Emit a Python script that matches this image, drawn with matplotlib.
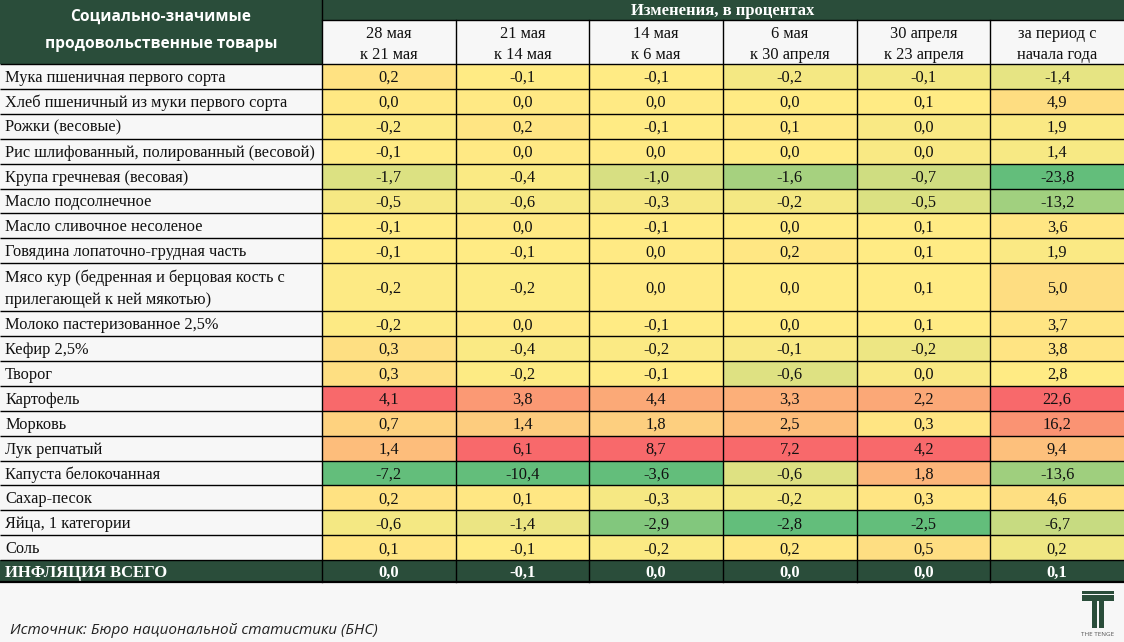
import matplotlib
matplotlib.use("Agg")
import matplotlib.pyplot as plt
from matplotlib.patches import Rectangle
import numpy as np

# ---------------- data ----------------
header_left = "Социально-значимые\nпродовольственные товары"
header_top = "Изменения, в процентах"
col_labels = ["28 мая\nк 21 мая", "21 мая\nк 14 мая", "14 мая\nк 6 мая",
              "6 мая\nк 30 апреля", "30 апреля\nк 23 апреля", "за период с\nначала года"]
items = [
    "Мука пшеничная первого сорта",
    "Хлеб пшеничный из муки первого сорта",
    "Рожки (весовые)",
    "Рис шлифованный, полированный (весовой)",
    "Крупа гречневая (весовая)",
    "Масло подсолнечное",
    "Масло сливочное несоленое",
    "Говядина лопаточно-грудная часть",
    "Мясо кур (бедренная и берцовая кость с\nприлегающей к ней мякотью)",
    "Молоко пастеризованное 2,5%",
    "Кефир 2,5%",
    "Творог",
    "Картофель",
    "Морковь",
    "Лук репчатый",
    "Капуста белокочанная",
    "Сахар-песок",
    "Яйца, 1 категории",
    "Соль",
]
col1 = [0.2, 0.0, -0.2, -0.1, -1.7, -0.5, -0.1, -0.1, -0.2, -0.2, 0.3, 0.3, 4.1, 0.7, 1.4, -7.2, 0.2, -0.6, 0.1]
col2 = [-0.1, 0.0, 0.2, 0.0, -0.4, -0.6, 0.0, -0.1, -0.2, 0.0, -0.4, -0.2, 3.8, 1.4, 6.1, -10.4, 0.1, -1.4, -0.1]
col3 = [-0.1, 0.0, -0.1, 0.0, -1.0, -0.3, -0.1, 0.0, 0.0, -0.1, -0.2, -0.1, 4.4, 1.8, 8.7, -3.6, -0.3, -2.9, -0.2]
col4 = [-0.2, 0.0, 0.1, 0.0, -1.6, -0.2, 0.0, 0.2, 0.0, 0.0, -0.1, -0.6, 3.3, 2.5, 7.2, -0.6, -0.2, -2.8, 0.2]
col5 = [-0.1, 0.1, 0.0, 0.0, -0.7, -0.5, 0.1, 0.1, 0.1, 0.1, -0.2, 0.0, 2.2, 0.3, 4.2, 1.8, 0.3, -2.5, 0.5]
col6 = [-1.4, 4.9, 1.9, 1.4, -23.8, -13.2, 3.6, 1.9, 5.0, 3.7, 3.8, 2.8, 22.6, 16.2, 9.4, -13.6, 4.6, -6.7, 0.2]
total_label = "ИНФЛЯЦИЯ ВСЕГО"
total_values = [0.0, -0.1, 0.0, 0.0, 0.0, 0.1]
source = "Источник: Бюро национальной статистики (БНС)"
logo_text = "THE TENGE"

columns = [col1, col2, col3, col4, col5, col6]

# ---------------- style ----------------
BG = "#f7f7f7"
DARK = "#2a4d3a"
GREEN = np.array([0x63, 0xBE, 0x7B]) / 255
YELLOW = np.array([0xFF, 0xEB, 0x84]) / 255
RED = np.array([0xF8, 0x69, 0x6B]) / 255
SERIF = ["Liberation Serif", "DejaVu Serif"]
SANS = ["Open Sans", "DejaVu Sans"]
FS = 11.8
DY = 1.5


def scale_color(v, vals):
    lo, mid, hi = min(vals), float(np.median(vals)), max(vals)
    if v <= mid:
        t = 0 if mid == lo else (mid - v) / (mid - lo)
        return tuple(YELLOW + (GREEN - YELLOW) * t)
    t = 0 if hi == mid else (v - mid) / (hi - mid)
    return tuple(YELLOW + (RED - YELLOW) * t)


def fmt(v):
    return f"{v:.1f}".replace(".", ",")


W, H = 1124, 642
fig = plt.figure(figsize=(W / 100, H / 100), dpi=100, facecolor=BG)
ax = fig.add_axes([0, 0, 1, 1])
ax.set_xlim(0, W)
ax.set_ylim(H, 0)
ax.axis("off")

x_first = 322
col_w = (W - x_first) / 6
col_x = [x_first + i * col_w for i in range(7)]
h1_top, h1_bot, h2_bot = 0, 20, 64
row_h = 24.9
heights = [48 if "\n" in it else row_h for it in items]
row_tops = [h2_bot]
for hh in heights:
    row_tops.append(row_tops[-1] + hh)
tot_top = row_tops[-1]
tot_bot = tot_top + 22

LW = 1.0

# header
ax.add_patch(Rectangle((0, h1_top), x_first, h2_bot - h1_top, facecolor=DARK, edgecolor="none"))
ax.add_patch(Rectangle((x_first, h1_top), W - x_first, h1_bot - h1_top, facecolor=DARK, edgecolor="none"))
ax.add_patch(Rectangle((x_first, h1_bot), W - x_first, h2_bot - h1_bot, facecolor=BG, edgecolor="none"))
ax.text(x_first / 2, h2_bot / 2 - 2, header_left, ha="center", va="center", color="white",
        fontsize=11.2, fontweight="bold", family=SANS, linespacing=1.95)
ax.text((x_first + W) / 2, (h1_top + h1_bot) / 2 + 1, header_top, ha="center", va="center",
        color="white", fontsize=12, fontweight="bold", family=SERIF)
for j, lab in enumerate(col_labels):
    ax.text((col_x[j] + col_x[j + 1]) / 2, (h1_bot + h2_bot) / 2 + 2.5, lab, ha="center", va="center",
            fontsize=FS, family=SERIF, color="#111111", linespacing=1.45)

# body
for i, it in enumerate(items):
    top, bot = row_tops[i], row_tops[i + 1]
    ax.add_patch(Rectangle((0, top), x_first, bot - top, facecolor=BG, edgecolor="none"))
    ax.text(5, (top + bot) / 2 + DY, it, ha="left", va="center", fontsize=FS, family=SERIF,
            color="#111111", linespacing=1.45)
    for j, vals in enumerate(columns):
        v = vals[i]
        ax.add_patch(Rectangle((col_x[j], top), col_w, bot - top,
                               facecolor=scale_color(v, vals), edgecolor="none"))
        ax.text((col_x[j] + col_x[j + 1]) / 2, (top + bot) / 2 + DY, fmt(v), ha="center", va="center",
                fontsize=FS, family=SERIF, color="#111111")

# total row
ax.add_patch(Rectangle((0, tot_top), W, tot_bot - tot_top, facecolor=DARK, edgecolor="none"))
ax.text(5, (tot_top + tot_bot) / 2 + DY, total_label, ha="left", va="center", fontsize=12,
        fontweight="bold", family=SERIF, color="white")
for j, v in enumerate(total_values):
    ax.text((col_x[j] + col_x[j + 1]) / 2, (tot_top + tot_bot) / 2 + DY, fmt(v), ha="center",
            va="center", fontsize=12, fontweight="bold", family=SERIF, color="white")

# grid lines
for y in [h2_bot] + row_tops[1:]:
    ax.plot([0, W], [y, y], color="black", lw=LW, solid_capstyle="butt")
ax.plot([x_first, W], [h1_bot, h1_bot], color="black", lw=LW)
ax.plot([0, W], [tot_bot, tot_bot], color="black", lw=1.6)
for x in col_x[:-1]:
    ax.plot([x, x], [h1_bot if x > x_first else h1_top, tot_bot], color="black", lw=LW)

# source
ax.text(10, 630, source, ha="left", va="center", fontsize=11, style="italic",
        family=SANS, color="#222222")

# logo
ax.add_patch(Rectangle((1082, 591), 32, 2.5, facecolor=DARK, edgecolor="none"))
ax.add_patch(Rectangle((1082, 595), 32, 6, facecolor=DARK, edgecolor="none"))
ax.add_patch(Rectangle((1092, 601), 5, 27, facecolor=DARK, edgecolor="none"))
ax.add_patch(Rectangle((1099, 601), 5, 27, facecolor=DARK, edgecolor="none"))
ax.text(1098, 634, logo_text, ha="center", va="center", fontsize=4.5, family=SANS, color="#555555")

fig.savefig("out.png", dpi=100, facecolor=BG)
